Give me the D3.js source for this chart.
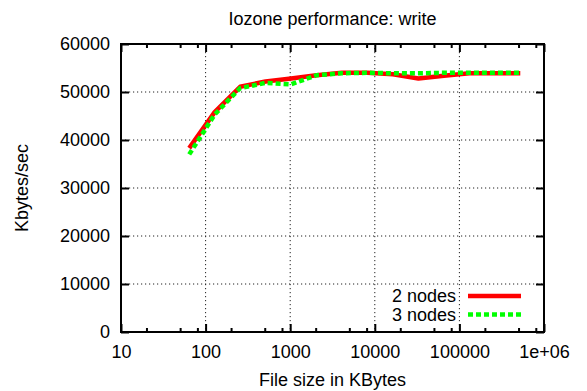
<!DOCTYPE html>
<html>
<head>
<meta charset="utf-8">
<title>Iozone performance: write</title>
<style>
  body { margin: 0; background: white; }
  text { font-family: "Liberation Sans", Arial, Helvetica, sans-serif; font-size: 18px; fill: black; }
  .grid line { stroke: #222; stroke-width: 1; stroke-dasharray: 1.2,2.8; }
  .axis line { stroke: black; stroke-width: 2; }
</style>
</head>
<body>
<svg id="chart" width="587" height="391"></svg>
<script src="https://d3js.org/d3.v7.min.js"></script>
<script>
// file sizes tested (KB)
var fileSizes = [64, 128, 256, 512, 1024, 2048, 4096, 8192, 16384, 32768, 65536, 131072, 262144, 524288];
// throughput in Kbytes/sec
var twoNodes   = [38300, 45800, 51100, 52200, 52800, 53500, 54000, 54000, 53700, 52800, 53400, 53900, 53900, 53900];
var threeNodes = [37000, 45300, 50800, 51900, 51600, 53500, 53900, 54000, 53900, 53900, 54000, 54000, 54000, 54000];
var seriesNames = ["2 nodes", "3 nodes"];
var xTicks = [10, 100, 1000, 10000, 100000, 1000000];
var xTickLabels = ["10", "100", "1000", "10000", "100000", "1e+06"];
var xMinorSteps = [2, 5, 8];
var yTicks = [0, 10000, 20000, 30000, 40000, 50000, 60000];

var margin = {top: 44, right: 43, bottom: 59, left: 121},
    W = 587, H = 391,
    width = W - margin.left - margin.right,
    height = H - margin.top - margin.bottom;

var svg = d3.select("#chart");
var g = svg.append("g").attr("transform", "translate(" + margin.left + "," + margin.top + ")");

var x = d3.scaleLog().domain([10, 1e6]).range([0, width]);
var y = d3.scaleLinear().domain([0, 60000]).range([height, 0]);

var minorTicks = [];
xTicks.slice(0, -1).forEach(function(t) {
  xMinorSteps.forEach(function(m) { minorTicks.push(t * m); });
});

// grid
var grid = g.append("g").attr("class", "grid");
grid.selectAll(".gx").data(xTicks.slice(1, -1)).enter().append("line")
  .attr("x1", d => x(d)).attr("x2", d => x(d)).attr("y1", 0).attr("y2", height);
grid.selectAll(".gy").data(yTicks.slice(1, -1)).enter().append("line")
  .attr("x1", 0).attr("x2", width).attr("y1", d => y(d)).attr("y2", d => y(d));

// axes (ticks point inward, mirrored on top/right)
g.append("g").attr("class", "axis").attr("transform", "translate(0," + height + ")")
  .call(d3.axisBottom(x).tickValues(xTicks).tickSizeInner(-8).tickSizeOuter(0).tickPadding(13)
    .tickFormat((d, i) => xTickLabels[i]));
g.append("g").attr("class", "axis").attr("transform", "translate(0," + height + ")")
  .call(d3.axisBottom(x).tickValues(minorTicks).tickSizeInner(-4).tickSizeOuter(0).tickFormat(""));
g.append("g").attr("class", "axis")
  .call(d3.axisTop(x).tickValues(xTicks).tickSizeInner(-8).tickSizeOuter(0).tickFormat(""));
g.append("g").attr("class", "axis")
  .call(d3.axisTop(x).tickValues(minorTicks).tickSizeInner(-4).tickSizeOuter(0).tickFormat(""));
g.append("g").attr("class", "axis")
  .call(d3.axisLeft(y).tickValues(yTicks).tickSizeInner(-8).tickSizeOuter(0).tickPadding(11)
    .tickFormat(d3.format("d")));
g.append("g").attr("class", "axis").attr("transform", "translate(" + width + ",0)")
  .call(d3.axisRight(y).tickValues(yTicks).tickSizeInner(-8).tickSizeOuter(0).tickFormat(""));
g.selectAll(".axis .domain").remove();
g.selectAll(".axis text").attr("font-family", null).attr("font-size", null);

// frame
g.append("rect").attr("width", width).attr("height", height)
  .attr("fill", "none").attr("stroke", "black").attr("stroke-width", 2);

// lines
var line = d3.line().x(d => x(d[0])).y(d => y(d[1]));
g.append("path").datum(d3.zip(fileSizes, twoNodes))
  .attr("d", line).attr("fill", "none").attr("stroke", "#ff0000")
  .attr("stroke-width", 4.5).attr("stroke-linejoin", "round");
g.append("path").datum(d3.zip(fileSizes, threeNodes))
  .attr("d", line).attr("fill", "none").attr("stroke", "#00ff00")
  .attr("stroke-width", 4.5).attr("stroke-dasharray", "5,3");

// legend
var legend = g.append("g").attr("transform", "translate(" + (width - 88) + "," + (height - 36) + ")");
var styles = [{c: "#ff0000", dash: null}, {c: "#00ff00", dash: "5,3"}];
seriesNames.forEach(function(name, i) {
  var row = legend.append("g").attr("transform", "translate(0," + (i * 18.5) + ")");
  row.append("text").attr("x", 0).attr("y", 6).attr("text-anchor", "end").text(name);
  row.append("line").attr("x1", 12).attr("x2", 65).attr("y1", 0).attr("y2", 0)
    .attr("stroke", styles[i].c).attr("stroke-width", 4.5)
    .attr("stroke-dasharray", styles[i].dash);
});

// titles
svg.append("text").attr("x", margin.left + width / 2).attr("y", 25)
  .attr("text-anchor", "middle").text("Iozone performance: write");
svg.append("text").attr("x", margin.left + width / 2).attr("y", 386)
  .attr("text-anchor", "middle").text("File size in KBytes");
svg.append("text").attr("transform", "translate(28," + (margin.top + height / 2) + ") rotate(-90)")
  .attr("text-anchor", "middle").text("Kbytes/sec");
</script>
</body>
</html>
